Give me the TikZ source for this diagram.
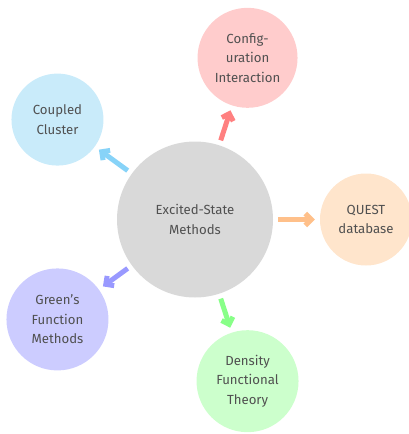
\documentclass[tikz,border=0pt]{standalone}
\usepackage{fontspec}
\setmainfont{Fira Sans}
\usetikzlibrary{arrows.meta,calc}
\definecolor{txt}{HTML}{505050}
\definecolor{cgray}{HTML}{D9D9D9}
\definecolor{fci}{HTML}{FFCCCC}\definecolor{aci}{HTML}{FF8080}
\definecolor{fcc}{HTML}{C9EBFA}\definecolor{acc}{HTML}{87D3F8}
\definecolor{fqu}{HTML}{FFE5CC}\definecolor{aqu}{HTML}{FFC08A}
\definecolor{fgf}{HTML}{CCCCFF}\definecolor{agf}{HTML}{9999FF}
\definecolor{fdf}{HTML}{CCFFCC}\definecolor{adf}{HTML}{88FF88}
\tikzset{
  bubble/.style={circle, inner sep=0pt, align=center, text=txt,
    font=\fontsize{13.2pt}{19.5pt}\selectfont},
  link/.style={line width=5pt, shorten <=5pt, shorten >=5pt,
    -{Straight Barb[length=6pt,width=12pt]}}
}
\begin{document}
\begin{tikzpicture}[x=1pt,y=1pt]
\useasboundingbox (0,0) rectangle (408,-434);
\coordinate (o) at (195,-219.5);
\node[bubble, fill=cgray, minimum size=156pt] (c) at (o) {Excited-State\\Methods};
\node[bubble, fill=fci, minimum size=100pt] (ci) at ($(o)+(72:170)$) {Config-\\uration\\Interaction};
\node[bubble, fill=fcc, minimum size=92pt] (cc) at ($(o)+(144:170)$) {Coupled\\Cluster};
\node[bubble, fill=fqu, minimum size=92pt] (qu) at ($(o)+(0:171)$) {QUEST\\database};
\node[bubble, fill=fgf, minimum size=102pt] (gf) at ($(o)+(216:170)$) {Green's\\Function\\Methods};
\node[bubble, fill=fdf, minimum size=102pt] (df) at ($(o)+(288:170)$) {Density\\Functional\\Theory};
\draw[link, aci] (c) -- (ci);
\draw[link, acc] (c) -- (cc);
\draw[link, aqu] (c) -- (qu);
\draw[link, agf] (c) -- (gf);
\draw[link, adf] (c) -- (df);
\end{tikzpicture}
\end{document}
